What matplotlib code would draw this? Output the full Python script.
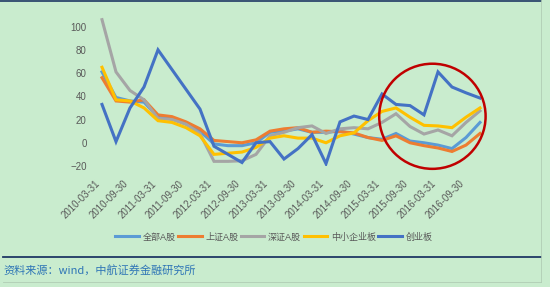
import matplotlib
matplotlib.use("Agg")
import matplotlib.pyplot as plt
from matplotlib.patches import Ellipse
from matplotlib.lines import Line2D

plt.rcParams['font.family'] = ['Liberation Sans', 'Noto Sans CJK SC', 'DejaVu Sans']

# quarterly dates, 2010Q1 .. 2016Q4
dates = []
for y in range(2010, 2017):
    for md in ["03-31", "06-30", "09-30", "12-31"]:
        dates.append(f"{y}-{md}")

all_a = [61, 39, 36, 35, 22, 21, 16, 10, -1, -2.5, -2.5, 0, 9, 10,
         12, 9, 9, 10, 7.5, 4.5, 3, 8, 1.5, 0, -2, -5, 4.5, 17.5]
sh_a = [56, 36, 35, 37, 24, 22.5, 18, 12, 2, 1, 0, 2.5, 10, 12,
        13, 9, 10, 9.5, 8.5, 4.5, 2, 6, 0, -2.5, -4.5, -7.5, -2, 8]
sz_a = [106, 61, 45, 37, 21, 20, 16, 8, -16, -16, -15.5, -10, 6, 9,
        13, 14.5, 8, 12, 13, 12, 17.5, 25, 14, 7.5, 11, 6, 17.5, 27.5]
sme = [65, 37, 36, 30, 19, 17.5, 13, 6, -10, -9, -8, -4, 4, 6,
       4, 4, 0, 6, 8.5, 19, 27, 30, 22, 15, 14.5, 13, 22, 30]
gem = [33, 1, 30, 48, 80, 63, 46, 29, -3, -10, -17, 0, 1, -14,
       -5, 7, -18, 18, 23, 20, 42, 33, 32, 24, 61, 48, 43, 38.5]

names = ["全部A股", "上证A股", "深证A股", "中小企业板", "创业板"]
colors = ["#5b9bd5", "#ed7d31", "#a5a5a5", "#ffc000", "#4472c4"]
series = [all_a, sh_a, sz_a, sme, gem]

bg = "#c9ecce"
fig = plt.figure(figsize=(5.5, 2.87), dpi=100, facecolor=bg)
ax = fig.add_axes([95 / 550, 1 - 166 / 287, 392 / 550, 151 / 287])
ax.set_facecolor(bg)

x = list(range(len(dates)))
for vals, c, n in zip(series, colors, names):
    ax.plot(x, vals, color=c, lw=2.2, label=n, solid_joinstyle='miter')

ax.set_xlim(-0.5, len(dates) - 0.5)
ax.set_ylim(-20, 110)
ax.set_yticks([-20, 0, 20, 40, 60, 80, 100])
ax.set_xticks(x[::2])
ax.set_xticklabels(dates[::2], rotation=45, ha='right', va='top')
ax.tick_params(axis='x', length=0, pad=9, labelsize=7, colors='#595959')
ax.tick_params(axis='y', length=0, pad=6, labelsize=7, colors='#595959')
for s in ax.spines.values():
    s.set_visible(False)

# red circle highlight
ax.add_patch(Ellipse((23.6, 22.8), 7.6, 90.5, fill=False, ec="#c00000", lw=1.8,
                     zorder=5, clip_on=False))

handles = [Line2D([], [], color=c, lw=2.2) for c in colors]
leg = fig.legend(handles, names, loc='center', bbox_to_anchor=(0.498, 1 - 237 / 287),
                 ncol=5, frameon=False, fontsize=6.5, handlelength=2.6,
                 handletextpad=0.4, columnspacing=0.3)
for t in leg.get_texts():
    t.set_color('#595959')

# frame lines
fig.add_artist(Line2D([0, 541 / 550], [1 - 0.5 / 287] * 2, color="#1f3864", lw=1.2))
fig.add_artist(Line2D([3 / 550, 541 / 550], [1 - 257 / 287] * 2, color="#1f3864", lw=1.3))
fig.add_artist(Line2D([541 / 550] * 2, [1 - 282 / 287, 1], color="#b0ccb4", lw=0.6))
fig.add_artist(Line2D([3 / 550, 541 / 550], [1 - 282 / 287] * 2, color="#b0ccb4", lw=0.6))

fig.text(3 / 550, 1 - 270 / 287, "资料来源：wind，中航证券金融研究所", color="#2e75b6",
         fontsize=8, style='italic', va='center', ha='left',
         family=['Noto Sans CJK SC', 'DejaVu Sans'])

fig.savefig("out.png", dpi=100, facecolor=bg)
